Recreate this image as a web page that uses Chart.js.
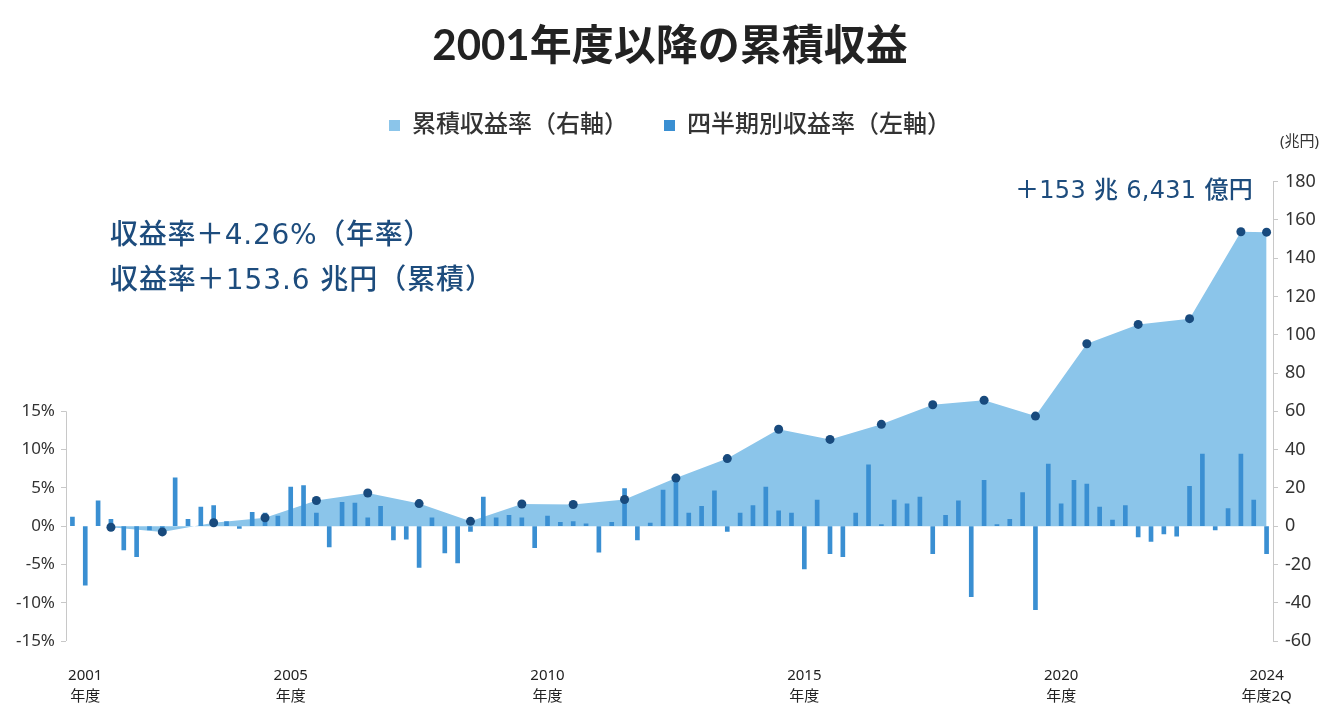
<!DOCTYPE html>
<html lang="ja">
<head>
<meta charset="utf-8">
<title>2001年度以降の累積収益</title>
<script src="https://cdn.jsdelivr.net/npm/chart.js@4.4.0/dist/chart.umd.min.js"></script>
<style>
  html, body { margin: 0; padding: 0; background: #fff; }
  #wrap { width: 1340px; height: 721px; position: relative; }
</style>
</head>
<body>
<div id="wrap"><canvas id="gpifChart" width="1340" height="721"></canvas></div>
<script>
// Quarterly categories: FY2001 1Q .. FY2024 2Q
const quarters = [];
for (let fy = 2001; fy <= 2024; fy++) {
    for (let q = 1; q <= 4; q++) {
        if (fy === 2024 && q > 2) break;
        quarters.push(fy + '年度' + q + 'Q');
    }
}

// Quarterly return (%), left axis
const quarterlyReturn = [
    1.2, -7.7, 3.3, 0.9,     // 2001
    -3.1, -4.0, -0.5, -0.8,  // 2002
    6.3, 0.9, 2.5, 2.7,      // 2003
    0.6, -0.3, 1.8, 1.7,     // 2004
    1.3, 5.1, 5.3, 1.7,      // 2005
    -2.7, 3.1, 3.0, 1.1,     // 2006
    2.6, -1.8, -1.7, -5.4,   // 2007
    1.1, -3.5, -4.8, -0.7,   // 2008
    3.8, 1.1, 1.4, 1.1,      // 2009
    -2.8, 1.3, 0.5, 0.6,     // 2010
    0.3, -3.4, 0.5, 4.9,     // 2011
    -1.8, 0.4, 4.7, 5.9,     // 2012
    1.7, 2.6, 4.6, -0.7,     // 2013
    1.7, 2.7, 5.1, 2.0,      // 2014
    1.7, -5.6, 3.4, -3.6,    // 2015
    -4.0, 1.7, 8.0, 0.2,     // 2016
    3.4, 2.9, 3.8, -3.6,     // 2017
    1.4, 3.3, -9.2, 6.0,     // 2018
    0.2, 0.9, 4.4, -10.9,    // 2019
    8.1, 2.9, 6.0, 5.5,      // 2020
    2.5, 0.8, 2.7, -1.4,     // 2021
    -2.0, -1.0, -1.3, 5.2,   // 2022
    9.4, -0.5, 2.3, 9.4,     // 2023
    3.4, -3.6                // 2024
];

// Cumulative return (trillion yen), right axis, at each fiscal year end
const cumulativeAt = [
    '2001年度4Q', '2002年度4Q', '2003年度4Q', '2004年度4Q', '2005年度4Q', '2006年度4Q',
    '2007年度4Q', '2008年度4Q', '2009年度4Q', '2010年度4Q', '2011年度4Q', '2012年度4Q',
    '2013年度4Q', '2014年度4Q', '2015年度4Q', '2016年度4Q', '2017年度4Q', '2018年度4Q',
    '2019年度4Q', '2020年度4Q', '2021年度4Q', '2022年度4Q', '2023年度4Q', '2024年度2Q'
];
const cumulativeReturn = [
    -0.6, -3.0, 1.8, 4.4, 13.4, 17.3,
    11.8, 2.5, 11.6, 11.3, 13.9, 25.1,
    35.3, 50.6, 45.3, 53.2, 63.4, 65.8,
    57.5, 95.3, 105.4, 108.4, 153.8, 153.6
];

// x-axis tick labels
const xTickLabels = {
    '2001年度2Q': ['2001', '年度'],
    '2005年度2Q': ['2005', '年度'],
    '2010年度2Q': ['2010', '年度'],
    '2015年度2Q': ['2015', '年度'],
    '2020年度2Q': ['2020', '年度'],
    '2024年度2Q': ['2024', '年度2Q']
};

const FONT = "'Noto Sans', 'Noto Sans CJK JP', sans-serif";
const NOTE_FONT = "'DejaVu Sans', 'Noto Sans CJK JP', sans-serif";
const cumPoints = cumulativeReturn.map((v, i) => ({ x: cumulativeAt[i], y: v }));

// draw text, nudging letter spacing so it spans about the given width
function fitText(ctx, text, x, y, width) {
    ctx.letterSpacing = '0px';
    const w = ctx.measureText(text).width;
    const sp = Math.min(1.5, Math.max(-1, (width - w) / text.length));
    ctx.letterSpacing = sp.toFixed(2) + 'px';
    ctx.fillText(text, x, y);
    ctx.letterSpacing = '0px';
}

// left axis line only from -15% to 15%, plus free text
const extrasPlugin = {
    id: 'extras',
    afterDraw(chart) {
        const { ctx, chartArea, scales } = chart;
        ctx.save();
        ctx.strokeStyle = '#c8c8c8';
        ctx.lineWidth = 1;
        ctx.beginPath();
        ctx.moveTo(chartArea.left + 0.5, scales.y.getPixelForValue(15));
        ctx.lineTo(chartArea.left + 0.5, scales.y.getPixelForValue(-15));
        ctx.stroke();

        ctx.fillStyle = '#1d4c7d';
        ctx.textBaseline = 'middle';
        ctx.textAlign = 'left';
        ctx.font = '500 28px ' + NOTE_FONT;
        fitText(ctx, '収益率＋4.26%（年率）', 110, 237, 322);
        fitText(ctx, '収益率＋153.6 兆円（累積）', 110, 282, 384);
        ctx.font = '500 24px ' + NOTE_FONT;
        ctx.textAlign = 'right';
        fitText(ctx, '＋153 兆 6,431 億円', 1253, 192, 238);

        ctx.fillStyle = '#333';
        ctx.textAlign = 'left';
        ctx.font = '15px ' + FONT;
        ctx.fillText('(兆円)', 1280, 142);
        ctx.restore();
    }
};

new Chart(document.getElementById('gpifChart').getContext('2d'), {
    type: 'bar',
    data: {
        labels: quarters,
        datasets: [{
            type: 'line',
            label: '累積収益率（右軸）',
            data: cumPoints,
            yAxisID: 'y1',
            fill: 'origin',
            backgroundColor: '#8bc5ea',
            borderColor: '#8bc5ea',
            borderWidth: 0,
            pointRadius: 0,
            tension: 0,
            order: 3
        }, {
            label: '四半期別収益率（左軸）',
            data: quarterlyReturn,
            yAxisID: 'y',
            backgroundColor: '#3a8fd2',
            barThickness: 4,
            order: 2
        }, {
            type: 'line',
            label: 'points',
            data: cumPoints,
            yAxisID: 'y1',
            showLine: false,
            pointRadius: 4.5,
            pointBackgroundColor: '#184a7d',
            pointBorderWidth: 0,
            order: 1
        }]
    },
    options: {
        responsive: false,
        animation: false,
        events: [],
        layout: { padding: 0 },
        plugins: {
            title: {
                display: true,
                text: '2001年度以降の累積収益',
                color: '#222',
                font: { family: "Lato, 'Noto Sans CJK JP', sans-serif", size: 42, weight: 'bold' },
                padding: { top: 21, bottom: 6 }
            },
            // empty spacer between legend and plot
            subtitle: {
                display: true,
                text: ' ',
                weight: 500,
                font: { size: 1 },
                padding: { top: 33, bottom: 0 }
            },
            legend: {
                display: true,
                labels: {
                    boxWidth: 11,
                    boxHeight: 11,
                    padding: 36,
                    color: '#333',
                    font: { family: FONT, size: 24, weight: '500' },
                    filter: item => item.datasetIndex !== 2,
                    sort: (a, b) => a.datasetIndex - b.datasetIndex
                }
            },
            tooltip: { enabled: false }
        },
        scales: {
            x: {
                offset: true,
                grid: { display: false },
                border: { display: false },
                ticks: {
                    autoSkip: false,
                    maxRotation: 0,
                    padding: 16,
                    color: '#222',
                    font: { family: "'Liberation Sans Narrow', " + FONT, size: 15, lineHeight: 1.4 },
                    callback: function (val) {
                        const lab = this.getLabelForValue(val);
                        return xTickLabels[lab] || '';
                    }
                },
                afterFit: s => { s.height = 80; }
            },
            y: {
                position: 'left',
                min: -15,
                max: 45,
                grid: {
                    drawOnChartArea: false,
                    tickLength: 5,
                    color: c => (c.tick && c.tick.value <= 15) ? '#c8c8c8' : 'rgba(0,0,0,0)'
                },
                border: { display: false },
                ticks: {
                    stepSize: 5,
                    padding: 6,
                    color: '#333',
                    font: { family: FONT, size: 17 },
                    callback: v => v <= 15 ? v + '%' : ''
                },
                afterFit: s => { s.width = 66; }
            },
            y1: {
                position: 'right',
                min: -60,
                max: 180,
                grid: { drawOnChartArea: false, tickLength: 5, color: '#c8c8c8' },
                border: { display: true, color: '#c8c8c8' },
                ticks: {
                    stepSize: 20,
                    padding: 7,
                    color: '#333',
                    font: { family: FONT, size: 18 }
                },
                afterFit: s => { s.width = 67; }
            }
        }
    },
    plugins: [extrasPlugin]
});
</script>
</body>
</html>
